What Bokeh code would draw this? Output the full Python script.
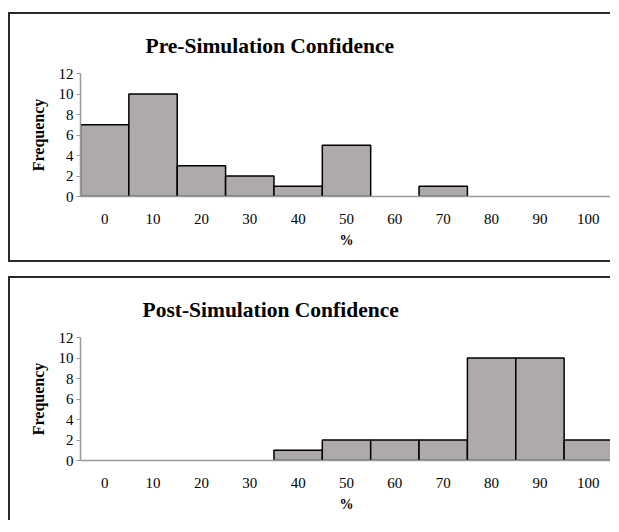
from bokeh.plotting import figure
from bokeh.models import ColumnDataSource, FixedTicker, Title
from bokeh.layouts import column
from bokeh.embed import file_html
from bokeh.resources import INLINE

bins = [0, 10, 20, 30, 40, 50, 60, 70, 80, 90, 100]
pre_freq = [7, 10, 3, 2, 1, 5, 0, 1, 0, 0, 0]
post_freq = [0, 0, 0, 0, 1, 2, 2, 2, 10, 10, 2]
y_ticks = [0, 2, 4, 6, 8, 10, 12]
x_label = "%"
y_label = "Frequency"
titles = ["Pre-Simulation Confidence", "Post-Simulation Confidence"]

SERIF = "Liberation Serif"
BAR = "#AEAAAA"
EDGE = "2px solid #2a2a2a"


def make(title, freq, height, margin_top, title_offset, border_bottom):
    xs = [b for b, f in zip(bins, freq) if f > 0]
    fs = [f for f in freq if f > 0]
    src = ColumnDataSource(dict(left=[b - 5 for b in xs], right=[b + 5 for b in xs],
                                top=fs, bottom=[0] * len(fs)))
    styles = {"border-top": EDGE, "border-left": EDGE, "border-right": "none"}
    styles["border-bottom"] = EDGE if border_bottom else "none"
    p = figure(width=602, height=height, output_backend="svg", toolbar_location=None,
               tools="", x_range=(-5, 105), y_range=(0, 12),
               min_border_left=70, min_border_right=0, min_border_top=59,
               min_border_bottom=height - 182, styles=styles,
               margin=(margin_top, 0, 0, 8))
    p.quad(left="left", right="right", top="top", bottom="bottom", source=src,
           fill_color=BAR, line_color="black", line_width=1.5)
    p.title = Title(text=title, text_font=SERIF, text_font_size="21.5px",
                    text_font_style="bold", align="left", offset=title_offset,
                    text_color="black", standoff=31)
    p.outline_line_color = None
    p.grid.visible = False
    p.background_fill_color = "white"
    p.border_fill_color = "white"

    xa = p.xaxis[0]
    xa.ticker = FixedTicker(ticks=bins)
    xa.axis_line_color = "#999999"
    xa.axis_line_width = 1.5
    xa.major_tick_line_color = None
    xa.minor_tick_line_color = None
    xa.major_label_standoff = 11
    xa.major_label_text_font = SERIF
    xa.major_label_text_font_size = "15px"
    xa.major_label_text_color = "black"
    xa.axis_label = x_label
    xa.axis_label_text_font = SERIF
    xa.axis_label_text_font_size = "14px"
    xa.axis_label_text_font_style = "bold"
    xa.axis_label_text_color = "black"
    xa.axis_label_standoff = 6

    ya = p.yaxis[0]
    ya.ticker = FixedTicker(ticks=y_ticks)
    ya.axis_line_color = "#999999"
    ya.axis_line_width = 1.5
    ya.major_tick_line_color = "#999999"
    ya.major_tick_in = 0
    ya.major_tick_out = 4
    ya.minor_tick_line_color = None
    ya.major_label_standoff = 3
    ya.major_label_text_font = SERIF
    ya.major_label_text_font_size = "15px"
    ya.major_label_text_color = "black"
    ya.axis_label = y_label
    ya.axis_label_text_font = SERIF
    ya.axis_label_text_font_size = "16px"
    ya.axis_label_text_font_style = "bold"
    ya.axis_label_text_color = "black"
    ya.axis_label_standoff = 9
    return p


p1 = make(titles[0], pre_freq, 250, 12, 65, True)
p2 = make(titles[1], post_freq, 244, 14, 62, False)
layout = column(p1, p2, spacing=0)

open("out.html", "w").write(file_html(layout, INLINE))
